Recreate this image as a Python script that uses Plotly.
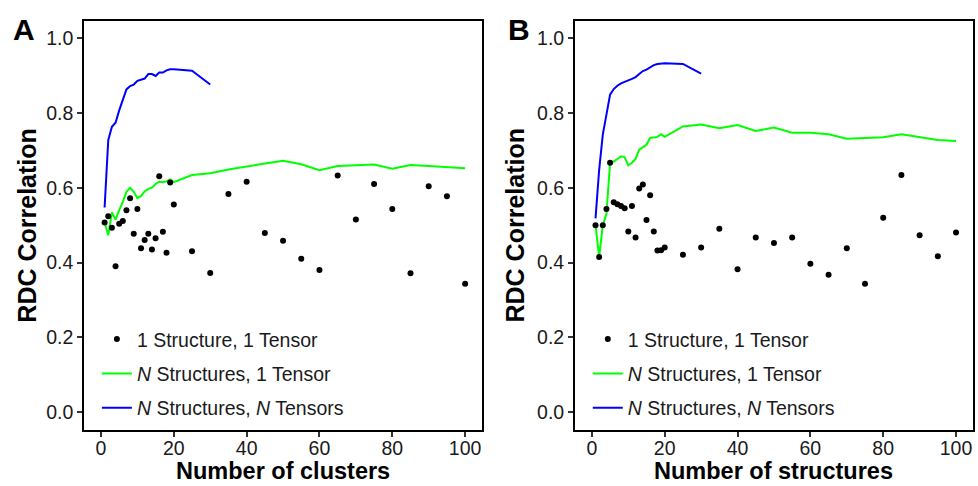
import plotly.graph_objects as go
from plotly.subplots import make_subplots

# ---- data ----
x_all = [1, 2, 3, 4, 5, 6, 7, 8, 9, 10, 11, 12, 13, 14, 15, 16, 17, 18, 19, 20,
         25, 30, 35, 40, 45, 50, 55, 60, 65, 70, 75, 80, 85, 90, 95, 100]
x_short = [1, 2, 3, 4, 5, 6, 7, 8, 9, 10, 11, 12, 13, 14, 15, 16, 17, 18, 19, 20, 25, 30]

a_single = [0.507, 0.524, 0.493, 0.390, 0.504, 0.511, 0.540, 0.572, 0.477, 0.543,
            0.438, 0.460, 0.477, 0.435, 0.465, 0.631, 0.482, 0.426, 0.614, 0.555,
            0.430, 0.372, 0.583, 0.616, 0.479, 0.458, 0.410, 0.380, 0.633, 0.515,
            0.610, 0.543, 0.371, 0.604, 0.577, 0.343]
a_n1 = [0.507, 0.473, 0.534, 0.515, 0.540, 0.562, 0.589, 0.600, 0.589, 0.572,
        0.578, 0.590, 0.597, 0.600, 0.610, 0.616, 0.615, 0.617, 0.622, 0.615,
        0.634, 0.639, 0.649, 0.658, 0.665, 0.672, 0.663, 0.647, 0.658, 0.660,
        0.662, 0.651, 0.661, 0.658, 0.655, 0.652]
a_nn = [0.547, 0.727, 0.763, 0.774, 0.807, 0.834, 0.863, 0.872, 0.876, 0.886,
        0.888, 0.892, 0.904, 0.904, 0.899, 0.908, 0.908, 0.914, 0.917, 0.917,
        0.913, 0.876]

b_single = [0.500, 0.415, 0.500, 0.543, 0.667, 0.561, 0.556, 0.551, 0.545, 0.483,
            0.551, 0.467, 0.598, 0.609, 0.514, 0.580, 0.483, 0.432, 0.433, 0.440,
            0.421, 0.440, 0.490, 0.382, 0.467, 0.452, 0.467, 0.397, 0.367, 0.438,
            0.343, 0.520, 0.634, 0.473, 0.417, 0.480]
b_n1 = [0.500, 0.415, 0.500, 0.530, 0.667, 0.670, 0.677, 0.684, 0.682, 0.660,
        0.667, 0.677, 0.702, 0.708, 0.715, 0.733, 0.735, 0.736, 0.743, 0.736,
        0.764, 0.769, 0.759, 0.768, 0.752, 0.761, 0.747, 0.747, 0.743, 0.731,
        0.733, 0.735, 0.743, 0.735, 0.728, 0.725]
b_nn = [0.518, 0.648, 0.742, 0.800, 0.849, 0.864, 0.873, 0.879, 0.882, 0.887,
        0.891, 0.896, 0.904, 0.912, 0.916, 0.922, 0.928, 0.931, 0.933, 0.933,
        0.931, 0.905]

names = ["1 Structure, 1 Tensor", "<i>N</i> Structures, 1 Tensor", "<i>N</i> Structures, <i>N</i> Tensors"]
x_titles = ["Number of clusters", "Number of structures"]
y_title = "RDC Correlation"
tick_vals_x = [0, 20, 40, 60, 80, 100]
tick_vals_y = [0.0, 0.2, 0.4, 0.6, 0.8, 1.0]
panel_labels = ["A", "B"]

FONT = "Liberation Sans, Arial, Helvetica, sans-serif"
GREEN = "#00ff00"
BLUE = "#0000ff"

fig = make_subplots(rows=1, cols=2, horizontal_spacing=0.1044)

panels = [(a_single, a_n1, a_nn, "legend"), (b_single, b_n1, b_nn, "legend2")]
for col, (single, n1, nn, leg) in enumerate(panels, start=1):
    fig.add_trace(go.Scatter(x=x_all, y=n1, mode="lines", name=names[1],
                             line=dict(color=GREEN, width=2), legend=leg,
                             legendrank=2, legendgroup=f"g2{col}"), row=1, col=col)
    fig.add_trace(go.Scatter(x=x_short, y=nn, mode="lines", name=names[2],
                             line=dict(color=BLUE, width=2), legend=leg,
                             legendrank=3, legendgroup=f"g3{col}"), row=1, col=col)
    fig.add_trace(go.Scatter(x=x_all, y=single, mode="markers", name=names[0],
                             marker=dict(color="black", size=6), legend=leg,
                             legendrank=1, legendgroup=f"g1{col}"), row=1, col=col)

axis_common = dict(showline=True, linecolor="black", linewidth=1.6, mirror=True,
                   ticks="outside", ticklen=5, tickwidth=1.5, tickcolor="#333333",
                   showgrid=False, zeroline=False,
                   tickfont=dict(family=FONT, size=19.5, color="#1a1a1a"))
for col in (1, 2):
    fig.update_xaxes(range=[-4.66, 104.66], tickvals=tick_vals_x, ticklabelstandoff=-5,
                     **axis_common, row=1, col=col)
    fig.update_yaxes(range=[-0.048, 1.046], tickvals=tick_vals_y, tickformat=".1f",
                     **axis_common, row=1, col=col)

xtitle_font = dict(family=FONT, size=23.5, color="black")
ytitle_font = dict(family=FONT, size=25, color="black")
annotations = []
for i, (xc, ylab_x) in enumerate([(0.2239, -0.0651), (0.7761, 0.4848)]):
    annotations.append(dict(text=f"<b>{x_titles[i]}</b>", xref="paper", yref="paper",
                            x=xc, y=-0.1369, xanchor="center", yanchor="bottom",
                            showarrow=False, font=xtitle_font))
    annotations.append(dict(text=f"<b>{y_title}</b>", xref="paper", yref="paper",
                            x=ylab_x, y=0.5, xanchor="center", yanchor="middle",
                            textangle=-90, showarrow=False, font=ytitle_font))
annotations.append(dict(text=f"<b>{panel_labels[0]}</b>", xref="paper", yref="paper",
                        x=-0.067, y=0.98, xanchor="center", yanchor="middle",
                        showarrow=False, font=dict(family=FONT, size=30, color="black")))
annotations.append(dict(text=f"<b>{panel_labels[1]}</b>", xref="paper", yref="paper",
                        x=0.489, y=0.98, xanchor="center", yanchor="middle",
                        showarrow=False, font=dict(family=FONT, size=30, color="black")))

leg_common = dict(bgcolor="rgba(0,0,0,0)", borderwidth=0, tracegroupgap=6,
                  font=dict(family=FONT, size=19.5, color="#1a1a1a"),
                  xanchor="left", yanchor="top", traceorder="grouped")
fig.update_layout(
    width=978, height=486,
    margin=dict(l=84, r=3, t=21, b=56),
    plot_bgcolor="white", paper_bgcolor="white",
    legend=dict(x=0.0145, y=0.2693, **leg_common),
    legend2=dict(x=0.5667, y=0.2693, **leg_common),
    annotations=annotations,
)

fig.write_html("out.html")
